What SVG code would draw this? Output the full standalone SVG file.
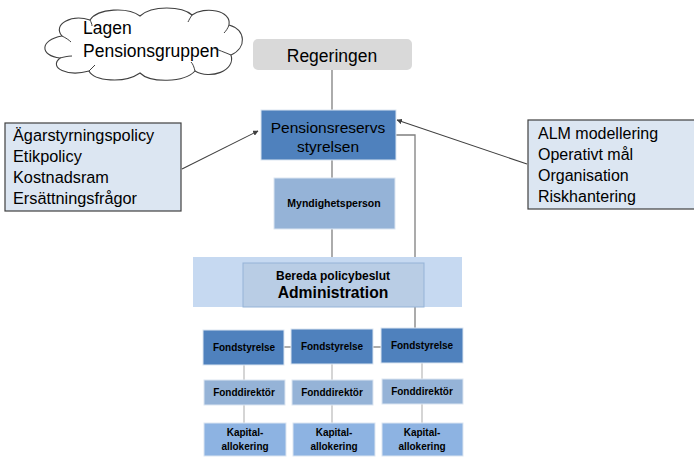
<svg xmlns="http://www.w3.org/2000/svg" width="694" height="457" viewBox="0 0 694 457">
<defs>
<marker id="ah" viewBox="0 0 10 10" refX="9" refY="5" markerWidth="5" markerHeight="5" orient="auto">
<path d="M0,0 L10,5 L0,10 z" fill="#404040"/>
</marker>
<style>
.cal{font-family:"Liberation Sans","Open Sans",sans-serif;fill:#000}
.ar{font-family:"Liberation Sans",Arial,sans-serif;font-weight:bold;fill:#000;text-anchor:middle}
.dark{fill:#4f81bd;stroke:#dbe5f1;stroke-width:1}
.mid{fill:#95b3d7;stroke:#dbe5f1;stroke-width:1}
.kap{fill:#8db3e2;stroke:#dbe5f1;stroke-width:1}
.info{fill:#dce6f2;stroke:#404040;stroke-width:1.2}
.ln{stroke:#7f7f7f;stroke-width:1.3;fill:none}
.lt{stroke:#bfbfbf;stroke-width:1.3;fill:none}
.ar2{stroke:#404040;stroke-width:1.1;fill:none;marker-end:url(#ah)}
</style>
</defs>
<rect width="694" height="457" fill="#fff"/>

<g id="connectors">
<line class="ln" x1="332" y1="70" x2="332" y2="110"/>
<line class="ln" x1="332" y1="160" x2="332" y2="178"/>
<line class="ln" x1="332" y1="229" x2="332" y2="257"/>
<polyline class="ln" points="396,135 415,135 415,328" stroke="#595959"/>
<line class="ln" x1="284" y1="347" x2="291" y2="347" stroke="#595959"/>
<line class="ln" x1="373" y1="347" x2="381" y2="347" stroke="#595959"/>
<line class="lt" x1="244" y1="365" x2="244" y2="380"/>
<line class="lt" x1="332" y1="364" x2="332" y2="380"/>
<line class="lt" x1="422" y1="363" x2="422" y2="379"/>
<line class="lt" x1="244" y1="405" x2="244" y2="423"/>
<line class="lt" x1="332" y1="405" x2="332" y2="423"/>
<line class="lt" x1="422" y1="404" x2="422" y2="423"/>
<line class="ar2" x1="182" y1="169" x2="258" y2="131"/>
<line class="ar2" x1="527" y1="164" x2="397" y2="120"/>
</g>

<g id="cloud">
<path d="M62,36 C52,24 72,14 90,20 C98,8 128,7 140,16 C152,5 182,6 192,15 C204,6 232,10 229,25 C246,30 247,48 231,55 C236,71 210,80 195,71 C184,83 150,83 140,73 C124,84 94,81 89,71 C68,77 48,68 60,58 C40,56 39,40 62,36 Z" fill="#fff" stroke="#404040" stroke-width="1.1"/>
<path d="M62,36 C66,38 69,40 71,42 M90,20 C91,22 92,24 92,26 M192,15 C190,18 189,20 188,22 M229,25 C228,28 226,31 224,33 M231,55 C224,52 218,50 214,48 M195,71 C194,67 193,64 191,62 M89,71 C91,69 93,67 95,65 M60,58 C64,57 68,56 72,56" fill="none" stroke="#404040" stroke-width="1"/>
<text class="cal" x="83" y="34" font-size="17.5">Lagen</text>
<text class="cal" x="83" y="57" font-size="17.5">Pensionsgruppen</text>
</g>

<g id="regeringen">
<rect x="253" y="39" width="159" height="31" rx="5" fill="#d9d9d9"/>
<text class="cal" x="332" y="62" font-size="17.5" text-anchor="middle">Regeringen</text>
</g>

<g id="pensionsreservs">
<rect class="dark" x="261" y="110" width="135" height="50"/>
<text class="cal" x="328" y="133" font-size="15.5" text-anchor="middle">Pensionsreservs</text>
<text class="cal" x="328" y="152" font-size="15.5" text-anchor="middle">styrelsen</text>
</g>

<g id="left-info">
<rect class="info" x="5" y="123" width="176" height="88"/>
<text class="cal" x="13" y="141" font-size="16.3">Ägarstyrningspolicy</text>
<text class="cal" x="13" y="162" font-size="16.3">Etikpolicy</text>
<text class="cal" x="13" y="183" font-size="16.3">Kostnadsram</text>
<text class="cal" x="13" y="204" font-size="16.3">Ersättningsfrågor</text>
</g>

<g id="right-info">
<rect class="info" x="528" y="120" width="170" height="89"/>
<text class="cal" x="538" y="139" font-size="16">ALM modellering</text>
<text class="cal" x="538" y="160" font-size="16">Operativt mål</text>
<text class="cal" x="538" y="181" font-size="16">Organisation</text>
<text class="cal" x="538" y="202" font-size="16">Riskhantering</text>
</g>

<g id="myndighetsperson">
<rect class="mid" x="274" y="178" width="121" height="51"/>
<text class="ar" x="334" y="207" font-size="10.5">Myndighetsperson</text>
</g>

<g id="administration">
<rect x="193" y="257" width="269" height="50" fill="#c6d9f1"/>
<rect x="243" y="263" width="181" height="44" fill="#b9cde5" stroke="#95b3d7" stroke-width="1"/>
<text class="ar" x="333" y="280" font-size="12">Bereda policybeslut</text>
<text class="ar" x="333" y="298" font-size="15.7">Administration</text>
</g>

<g id="fondstyrelse1">
<rect class="dark" x="203" y="330" width="81" height="35"/>
<text class="ar" x="244" y="351" font-size="10">Fondstyrelse</text>
</g>
<g id="fondstyrelse2">
<rect class="dark" x="291" y="329" width="82" height="35"/>
<text class="ar" x="332" y="350" font-size="10">Fondstyrelse</text>
</g>
<g id="fondstyrelse3">
<rect class="dark" x="381" y="328" width="82" height="35"/>
<text class="ar" x="422" y="349" font-size="10">Fondstyrelse</text>
</g>

<g id="fonddirektor1">
<rect class="mid" x="204" y="380" width="81" height="25"/>
<text class="ar" x="244" y="396" font-size="10">Fonddirektör</text>
</g>
<g id="fonddirektor2">
<rect class="mid" x="292" y="380" width="81" height="25"/>
<text class="ar" x="332" y="396" font-size="10">Fonddirektör</text>
</g>
<g id="fonddirektor3">
<rect class="mid" x="382" y="379" width="81" height="25"/>
<text class="ar" x="422" y="395" font-size="10">Fonddirektör</text>
</g>

<g id="kapital1">
<rect class="kap" x="204" y="423" width="82" height="33"/>
<text class="ar" x="245" y="436" font-size="10">Kapital-</text>
<text class="ar" x="245" y="450" font-size="10">allokering</text>
</g>
<g id="kapital2">
<rect class="kap" x="293" y="423" width="82" height="33"/>
<text class="ar" x="334" y="436" font-size="10">Kapital-</text>
<text class="ar" x="334" y="450" font-size="10">allokering</text>
</g>
<g id="kapital3">
<rect class="kap" x="382" y="423" width="81" height="33"/>
<text class="ar" x="422" y="436" font-size="10">Kapital-</text>
<text class="ar" x="422" y="450" font-size="10">allokering</text>
</g>
</svg>
